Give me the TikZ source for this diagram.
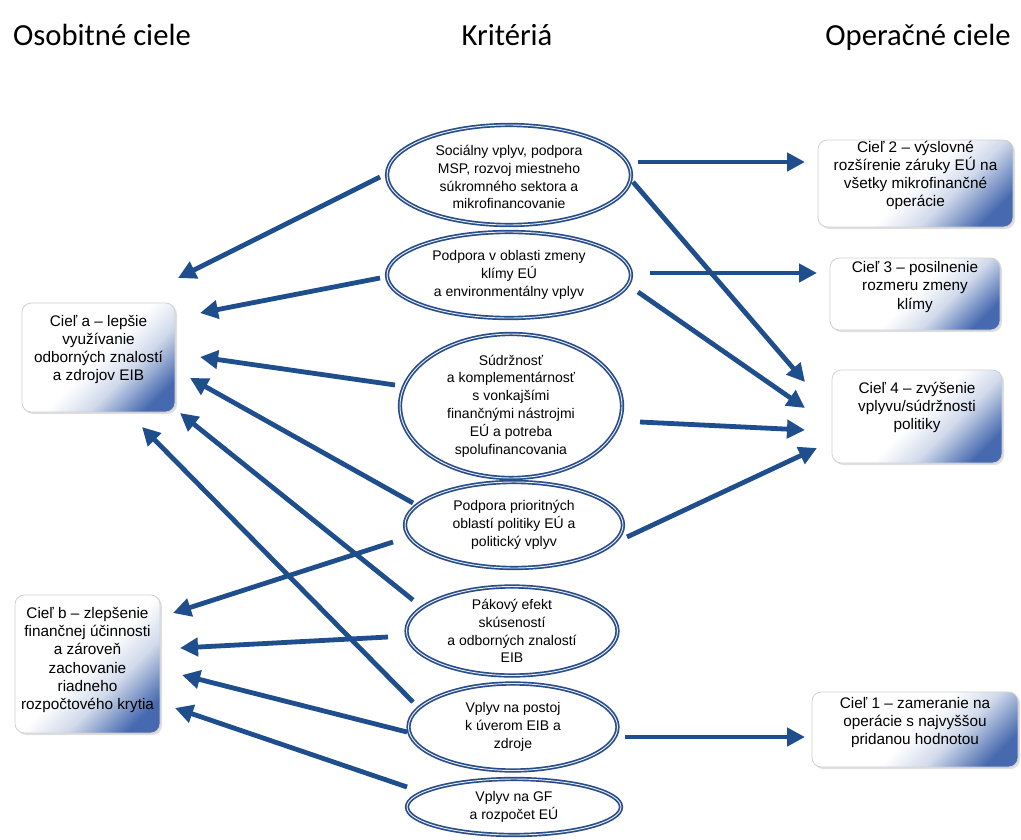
\documentclass[tikz,border=0pt]{standalone}
\usepackage{fontspec}
\setmainfont{Liberation Sans}
\newfontfamily\headfont{Carlito}
\usetikzlibrary{arrows.meta,shapes.geometric,shadows}
\definecolor{arrblue}{RGB}{31,78,140}
\definecolor{ellblue}{RGB}{38,76,138}
\definecolor{boxblue}{RGB}{70,105,175}
\pgfdeclarehorizontalshading{boxgrad}{100bp}{color(0bp)=(white); color(50bp)=(white); color(62bp)=(boxblue!25!white); color(77bp)=(boxblue); color(100bp)=(boxblue)}
\begin{document}
\begin{tikzpicture}[x=0.75pt,y=-0.75pt,
 crit/.style={ellipse, draw=ellblue, line width=1.25pt, double=white!90!ellblue, double distance=0.7pt, fill=white, inner sep=0pt},
 crittext/.style={align=center, font=\fontsize{10.5}{13.4}\selectfont, inner sep=0pt},
 goal/.style={rectangle, rounded corners=7pt, draw=black!18, line width=0.6pt, shading=boxgrad, shading angle=-45, drop shadow={opacity=0.25, shadow xshift=1.5pt, shadow yshift=-1.5pt}, inner sep=0pt},
 goaltext/.style={align=center, font=\fontsize{11.5}{13.6}\selectfont, inner sep=0pt},
 head/.style={font=\headfont\fontsize{23}{26}\selectfont, inner sep=0pt, anchor=base},
 arr/.style={draw=arrblue, line width=3.6pt, -{Triangle[length=13.5pt,width=13.5pt]}}
]
\useasboundingbox[fill=white] (0,0) rectangle (1021,839);

% headers
\node[head] (h1) at (102,45) {Osobitné ciele};
\node[head] (h2) at (507,45) {Kritériá};
\node[head] (h3) at (918,45) {Operačné ciele};

% criteria ellipses
\node[crit, minimum width=183pt, minimum height=75pt] (e1) at (509,175) {};
\node[crit, minimum width=183pt, minimum height=64.5pt] (e2) at (509,275) {};
\node[crit, minimum width=166.5pt, minimum height=108pt] (e3) at (511,406) {};
\node[crit, minimum width=163.5pt, minimum height=64.5pt] (e4) at (514,525) {};
\node[crit, minimum width=158.25pt, minimum height=66.75pt] (e5) at (512,631) {};
\node[crit, minimum width=156.75pt, minimum height=65.25pt] (e6) at (513,727) {};
\node[crit, minimum width=160.5pt, minimum height=42pt] (e7) at (514,807) {};

\node[crittext] (t1) at ([shift={(0,2)}]e1.center) {Sociálny vplyv, podpora\\MSP, rozvoj miestneho\\súkromného sektora a\\mikrofinancovanie};
\node[crittext] (t2) at (e2) {Podpora v oblasti zmeny\\klímy EÚ\\a environmentálny vplyv};
\node[crittext] (t3) at (e3) {Súdržnosť\\a komplementárnosť\\s vonkajšími\\finančnými nástrojmi\\EÚ a potreba\\spolufinancovania};
\node[crittext] (t4) at (e4) {Podpora prioritných\\oblastí politiky EÚ a\\politický vplyv};
\node[crittext] (t5) at (e5) {Pákový efekt\\skúseností\\a odborných znalostí\\EIB};
\node[crittext] (t6) at (e6) {Vplyv na postoj\\k úverom EIB a\\zdroje};
\node[crittext] (t7) at (e7) {Vplyv na GF\\a rozpočet EÚ};

% goal boxes
\node[goal, minimum width=114.75pt, minimum height=81.75pt] (ba) at (98.5,357.5) {};
\node[goal, minimum width=108.75pt, minimum height=103.5pt] (bb) at (87.5,664) {};
\node[goal, minimum width=146.25pt, minimum height=65.25pt] (b2) at (915.5,183.5) {};
\node[goal, minimum width=127.5pt, minimum height=54pt] (b3) at (915,294) {};
\node[goal, minimum width=127.5pt, minimum height=69.75pt] (b4) at (917,416.5) {};
\node[goal, minimum width=154.5pt, minimum height=56.25pt] (b1) at (915,729.5) {};

\node[goaltext] (ta) at ([shift={(0,-8)}]ba.center) {Cieľ a – lepšie\\využívanie\\odborných znalostí\\a zdrojov EIB};
\node[goaltext] (tb) at ([shift={(0,-4)}]bb.center) {Cieľ b – zlepšenie\\finančnej účinnosti\\a zároveň\\zachovanie\\riadneho\\rozpočtového krytia};
\node[goaltext] (t2b) at ([shift={(0,-8)}]b2.center) {Cieľ 2 – výslovné\\rozšírenie záruky EÚ na\\všetky mikrofinančné\\operácie};
\node[goaltext] (t3b) at ([shift={(0,-7)}]b3.center) {Cieľ 3 – posilnenie\\rozmeru zmeny\\klímy};
\node[goaltext] (t4b) at ([shift={(0,-9)}]b4.center) {Cieľ 4 – zvýšenie\\vplyvu/súdržnosti\\politiky};
\node[goaltext] (t1b) at ([shift={(0,-7)}]b1.center) {Cieľ 1 – zameranie na\\operácie s najvyššou\\pridanou hodnotou};

% right-hand arrows
\draw[arr] ([shift={(129,-13)}]e1.center) -- ([shift={(-110.5,-21.5)}]b2.center);
\draw[arr] ([shift={(124,7)}]e1.center) -- ([shift={(-112,-34.5)}]b4.center);
\draw[arr] ([shift={(141,-2)}]e2.center) -- ([shift={(-98,-21)}]b3.center);
\draw[arr] ([shift={(129,17)}]e2.center) -- ([shift={(-112,-8.5)}]b4.center);
\draw[arr] ([shift={(129,16)}]e3.center) -- ([shift={(-112,13.5)}]b4.center);
\draw[arr] ([shift={(113,12)}]e4.center) -- ([shift={(-100,31.5)}]b4.center);
\draw[arr] ([shift={(112,10)}]e6.center) -- ([shift={(-110,7.5)}]b1.center);

% left-hand arrows
\draw[arr] ([shift={(-129,2)}]e1.center) -- ([shift={(79.5,-79.5)}]ba.center);
\draw[arr] ([shift={(-129,3)}]e2.center) -- ([shift={(101.5,-44.5)}]ba.center);
\draw[arr] ([shift={(-116,-21)}]e3.center) -- ([shift={(101.5,-0.5)}]ba.center);
\draw[arr] ([shift={(-101,-22)}]e4.center) -- ([shift={(91.5,20.5)}]ba.center);
\draw[arr] ([shift={(-99,-31)}]e5.center) -- ([shift={(81.5,55.5)}]ba.center);
\draw[arr] ([shift={(-100,-25)}]e6.center) -- ([shift={(43.5,69.5)}]ba.center);
\draw[arr] ([shift={(-121,17)}]e4.center) -- ([shift={(85.5,-51)}]bb.center);
\draw[arr] ([shift={(-124,6)}]e5.center) -- ([shift={(92.5,-16)}]bb.center);
\draw[arr] ([shift={(-106,5)}]e6.center) -- ([shift={(94.5,11)}]bb.center);
\draw[arr] ([shift={(-107,-20)}]e7.center) -- ([shift={(87.5,44)}]bb.center);
\end{tikzpicture}
\end{document}
